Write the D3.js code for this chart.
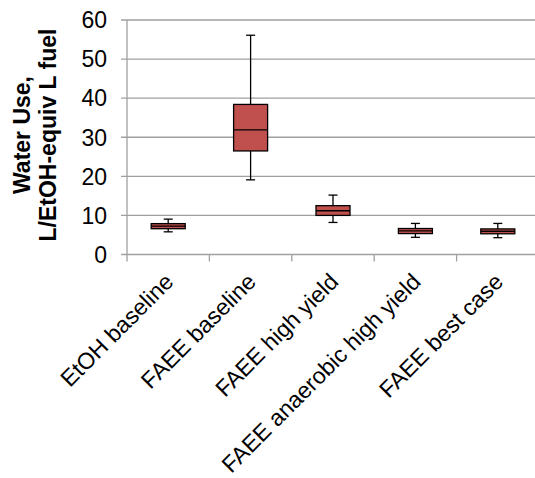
<!DOCTYPE html>
<html>
<head>
<meta charset="utf-8">
<script src="https://cdn.jsdelivr.net/npm/d3@7"></script>
<style>
  body { margin: 0; background: #fff; }
  text { font-family: "Liberation Sans", Arial, sans-serif; fill: #000; }
</style>
</head>
<body>
<div id="chart"></div>
<script>
// box plot of water use per scenario
const categories = ["EtOH baseline", "FAEE baseline", "FAEE high yield", "FAEE anaerobic high yield", "FAEE best case"];
const whiskerLow  = [5.8, 19.1, 8.2, 4.4, 4.3];
const boxLow      = [6.6, 26.5, 10.0, 5.35, 5.3];
const medians     = [7.25, 31.9, 11.2, 6.05, 5.95];
const boxHigh     = [7.9, 38.4, 12.5, 6.65, 6.55];
const whiskerHigh = [9.05, 56.1, 15.2, 7.95, 7.95];
const yTicks = [0, 10, 20, 30, 40, 50, 60];

const width = 535, height = 478;
const plotLeft = 127, plotTop = 20, plotBottom = 254.5;
const band = 82.4;

const svg = d3.select("#chart").append("svg")
    .attr("width", width)
    .attr("height", height);

const y = d3.scaleLinear().domain([0, 60]).range([plotBottom, plotTop]);
const x = d3.scaleBand().domain(categories)
    .range([plotLeft, plotLeft + band * categories.length])
    .paddingInner(0).paddingOuter(0);

// gridlines
svg.append("g")
    .selectAll("line")
    .data(yTicks)
    .join("line")
    .attr("x1", plotLeft - 6)
    .attr("x2", width)
    .attr("y1", d => y(d))
    .attr("y2", d => y(d))
    .attr("stroke", "#a0a0a0")
    .attr("stroke-width", 1.3);

// y axis line
svg.append("line")
    .attr("x1", plotLeft).attr("x2", plotLeft)
    .attr("y1", plotTop).attr("y2", plotBottom)
    .attr("stroke", "#a0a0a0")
    .attr("stroke-width", 1.3);

// y tick labels
svg.append("g")
    .selectAll("text")
    .data(yTicks)
    .join("text")
    .attr("x", plotLeft - 20)
    .attr("y", d => y(d))
    .attr("dy", "0.36em")
    .attr("text-anchor", "end")
    .style("font-size", "23px")
    .text(d => d);

// x ticks at band edges
const edges = categories.map(c => x(c)).concat([x(categories[categories.length - 1]) + band]);
svg.append("g")
    .selectAll("line")
    .data(edges)
    .join("line")
    .attr("x1", d => d).attr("x2", d => d)
    .attr("y1", plotBottom).attr("y2", plotBottom + 7)
    .attr("stroke", "#a0a0a0")
    .attr("stroke-width", 1.3);

// boxes
const boxW = 34, capW = 9;
const g = svg.append("g");
categories.forEach((c, i) => {
    const cx = x(c) + band / 2;
    g.append("line")
        .attr("x1", cx).attr("x2", cx)
        .attr("y1", y(whiskerLow[i])).attr("y2", y(whiskerHigh[i]))
        .attr("stroke", "#000").attr("stroke-width", 1.3);
    [whiskerLow[i], whiskerHigh[i]].forEach(v => {
        g.append("line")
            .attr("x1", cx - capW / 2).attr("x2", cx + capW / 2)
            .attr("y1", y(v)).attr("y2", y(v))
            .attr("stroke", "#000").attr("stroke-width", 1.3);
    });
    g.append("rect")
        .attr("x", cx - boxW / 2)
        .attr("y", y(boxHigh[i]))
        .attr("width", boxW)
        .attr("height", y(boxLow[i]) - y(boxHigh[i]))
        .attr("fill", "#c0504d")
        .attr("stroke", "#000")
        .attr("stroke-width", 1.3);
    g.append("line")
        .attr("x1", cx - boxW / 2).attr("x2", cx + boxW / 2)
        .attr("y1", y(medians[i])).attr("y2", y(medians[i]))
        .attr("stroke", "#000").attr("stroke-width", 1.3);
});

// x labels rotated
svg.append("g")
    .selectAll("text")
    .data(categories)
    .join("text")
    .attr("transform", d => `translate(${x(d) + band / 2 + 1},${plotBottom + 23}) rotate(-45)`)
    .attr("text-anchor", "end")
    .attr("dy", "0.35em")
    .style("font-size", "23px")
    .text(d => d);

// y axis title
const title = svg.append("text")
    .attr("transform", "translate(36,135) rotate(-90)")
    .attr("text-anchor", "middle")
    .style("font-size", "23px")
    .style("font-weight", "bold");
title.append("tspan").attr("x", 0).attr("dy", "-0.25em").text("Water Use,");
title.append("tspan").attr("x", 0).attr("dy", "1.12em").text("L/EtOH-equiv L fuel");
</script>
</body>
</html>
